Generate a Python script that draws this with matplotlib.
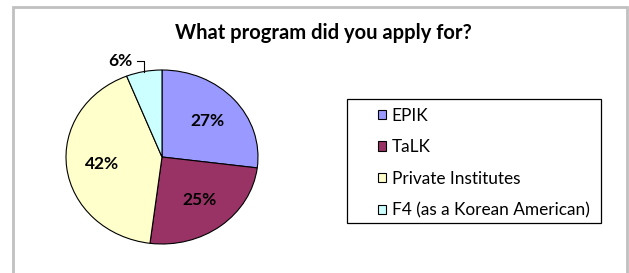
import numpy as np
import matplotlib
matplotlib.use("Agg")
import matplotlib.pyplot as plt
from matplotlib.patches import Rectangle

plt.rcParams['font.family'] = ['Lato', 'DejaVu Sans']

# data
labels = ['EPIK', 'TaLK', 'Private Institutes', 'F4 (as a Korean American)']
shares = [27, 25, 42, 6]
colors = ['#9999FF', '#993366', '#FFFFCC', '#CCFFFF']

W, H = 629, 273
fig = plt.figure(figsize=(W / 100, H / 100), dpi=100)

# grey chart border (bottom runs off the image)
fig.patches.append(Rectangle((13 / W, -0.05), (627 - 13) / W, (H - 7) / H + 0.05,
                             transform=fig.transFigure, fill=False,
                             edgecolor='#c0c0c0', linewidth=2))

fig.text(323 / W, 1 - 33 / H, 'What program did you apply for?',
         ha='center', va='center', fontsize=14.5, fontweight='bold')

# pie is stretched a bit wider than tall, like the original
ax = fig.add_axes([66 / W, 1 - 244 / H, 192 / W, 174 / H])
wedges, _, autotexts = ax.pie(
    shares, colors=colors, startangle=90, counterclock=False,
    autopct=lambda p: f'{p:.0f}%' if p > 10 else '', pctdistance=0.63,
    wedgeprops=dict(edgecolor='black', linewidth=0.8),
    textprops=dict(fontsize=12.5, fontweight='bold'))
ax.set_aspect('auto')
ax.set_xlim(-1, 1)
ax.set_ylim(-1, 1)
ax.axis('off')

# small slice: label outside with an elbow leader line
w = wedges[3]
mid = np.deg2rad((w.theta1 + w.theta2) / 2)
ex, ey = np.cos(mid), np.sin(mid)
ax.plot([ex, ex, ex - 0.07], [ey, 1.10, 1.10], color='black', lw=0.8, clip_on=False)
ax.text(ex - 0.12, 1.10, f'{shares[3]}%', ha='right', va='center',
        fontsize=12.5, fontweight='bold', clip_on=False)

# legend box drawn separately so its edges sit where the original's do
fig.patches.append(Rectangle((347 / W, 1 - 223 / H), 254 / W, 124 / H,
                             transform=fig.transFigure, fill=False,
                             edgecolor='black', linewidth=0.9))
handles = [Rectangle((0, 0), 1, 1, facecolor=c, edgecolor='black', linewidth=0.8)
           for c in colors]
fig.legend(handles, labels, loc='center left',
           bbox_to_anchor=(378 / W, 1 - 163 / H),
           fontsize=12.4, frameon=False, handlelength=0.45,
           handleheight=0.45, handletextpad=0.35, labelspacing=0.9,
           borderpad=0, borderaxespad=0)

fig.savefig('out.png', dpi=100)
